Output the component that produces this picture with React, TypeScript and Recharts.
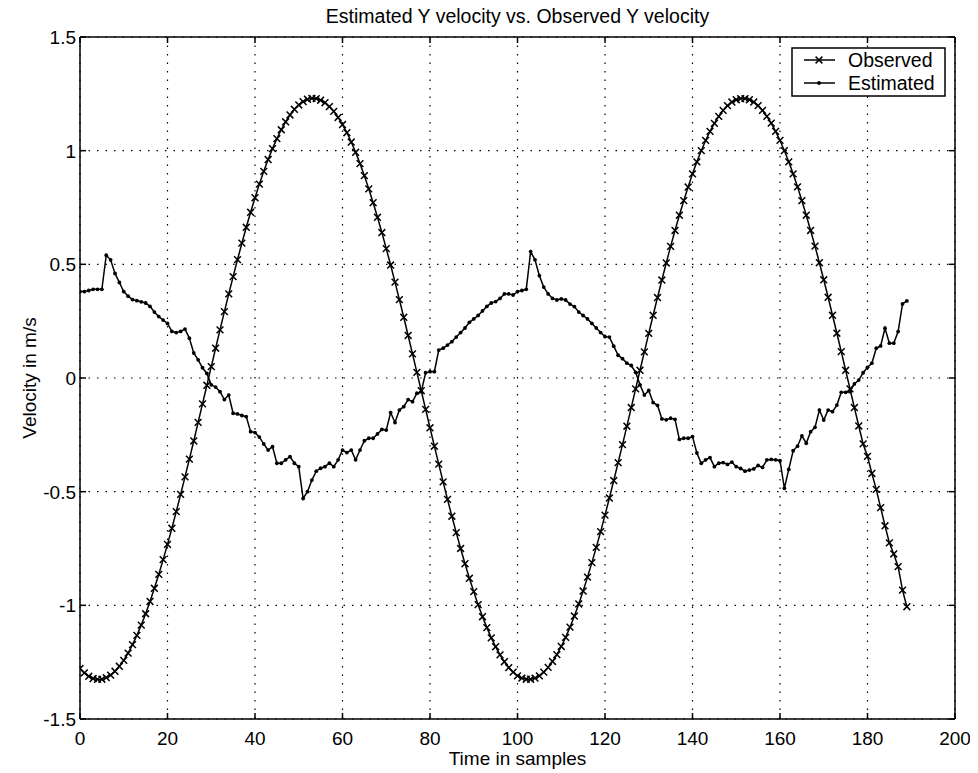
import React from "react";
import { LineChart, Line, XAxis, YAxis, CartesianGrid, Label } from "recharts";

const chartTitle = "Estimated Y velocity vs. Observed Y velocity";
const xLabel = "Time in samples";
const yLabel = "Velocity in m/s";
const seriesNames = ["Observed", "Estimated"];
const xTicks = [0, 20, 40, 60, 80, 100, 120, 140, 160, 180, 200];
const yTicks = [-1.5, -1, -0.5, 0, 0.5, 1, 1.5];

const observed = [
  -1.278, -1.297, -1.312, -1.322, -1.326, -1.325, -1.318, -1.307, -1.29, -1.268,
  -1.242, -1.21, -1.173, -1.132, -1.087, -1.037, -0.983, -0.925, -0.864, -0.799,
  -0.732, -0.661, -0.588, -0.512, -0.435, -0.357, -0.277, -0.195, -0.114, -0.032,
  0.05, 0.131, 0.212, 0.292, 0.37, 0.446, 0.521, 0.593, 0.663, 0.729,
  0.793, 0.853, 0.909, 0.961, 1.009, 1.053, 1.092, 1.127, 1.157, 1.182,
  1.201, 1.216, 1.226, 1.23, 1.229, 1.222, 1.211, 1.194, 1.173, 1.146,
  1.115, 1.079, 1.038, 0.993, 0.943, 0.89, 0.832, 0.771, 0.707, 0.64,
  0.569, 0.497, 0.422, 0.345, 0.267, 0.187, 0.106, 0.025, -0.056, -0.138,
  -0.219, -0.3, -0.379, -0.457, -0.534, -0.608, -0.68, -0.75, -0.817, -0.881,
  -0.94, -0.997, -1.05, -1.098, -1.143, -1.182, -1.218, -1.248, -1.274, -1.294,
  -1.31, -1.32, -1.325, -1.325, -1.32, -1.31, -1.294, -1.273, -1.247, -1.217,
  -1.181, -1.141, -1.096, -1.047, -0.994, -0.937, -0.876, -0.812, -0.745, -0.676,
  -0.603, -0.528, -0.451, -0.372, -0.293, -0.212, -0.13, -0.048, 0.034, 0.115,
  0.196, 0.276, 0.354, 0.431, 0.506, 0.579, 0.649, 0.716, 0.78, 0.84,
  0.898, 0.951, 1.0, 1.045, 1.085, 1.12, 1.151, 1.177, 1.198, 1.214,
  1.224, 1.229, 1.229, 1.224, 1.214, 1.198, 1.177, 1.151, 1.121, 1.085,
  1.045, 1.0, 0.951, 0.898, 0.841, 0.78, 0.716, 0.649, 0.58, 0.507,
  0.432, 0.355, 0.276, 0.197, 0.116, 0.034, -0.048, -0.13, -0.211, -0.29,
  -0.345, -0.42, -0.49, -0.57, -0.65, -0.725, -0.774, -0.83, -0.933, -1.006,
];

const estimated = [
  0.38, 0.38, 0.385, 0.39, 0.39, 0.39, 0.54, 0.52, 0.46, 0.42,
  0.38, 0.36, 0.345, 0.34, 0.335, 0.33, 0.315, 0.29, 0.27, 0.255,
  0.24, 0.205, 0.2, 0.205, 0.215, 0.175, 0.11, 0.08, 0.045, 0.02,
  -0.03, -0.04, -0.06, -0.095, -0.075, -0.155, -0.158, -0.165, -0.17, -0.236,
  -0.24, -0.26, -0.29, -0.317, -0.302, -0.375, -0.375, -0.36, -0.346, -0.375,
  -0.39, -0.53, -0.5, -0.449, -0.41, -0.397, -0.39, -0.375, -0.39, -0.36,
  -0.317, -0.328, -0.317, -0.36, -0.317, -0.276, -0.265, -0.265, -0.246, -0.226,
  -0.229, -0.152, -0.196, -0.141, -0.126, -0.095, -0.104, -0.067, -0.06, 0.023,
  0.028, 0.028, 0.123, 0.131, 0.145, 0.16, 0.18, 0.2, 0.22, 0.245,
  0.26, 0.275, 0.295, 0.315, 0.33, 0.336, 0.35, 0.37, 0.37, 0.365,
  0.38, 0.385, 0.39, 0.556, 0.52, 0.45, 0.4, 0.37, 0.35, 0.343,
  0.348, 0.343, 0.325, 0.314, 0.29, 0.275, 0.26, 0.24, 0.22, 0.2,
  0.182, 0.18, 0.14, 0.1, 0.085, 0.065, 0.055, 0.025, -0.03, -0.075,
  -0.055, -0.108, -0.12, -0.18, -0.184, -0.177, -0.182, -0.27, -0.265, -0.265,
  -0.258, -0.33, -0.375, -0.36, -0.35, -0.39, -0.375, -0.372, -0.38, -0.37,
  -0.39, -0.398, -0.41, -0.405, -0.4, -0.385, -0.393, -0.36, -0.358, -0.36,
  -0.364, -0.485, -0.402, -0.32, -0.3, -0.255, -0.287, -0.236, -0.217, -0.141,
  -0.185, -0.141, -0.148, -0.119, -0.063, -0.063, -0.06, -0.026, -0.009, 0.023,
  0.047, 0.065, 0.131, 0.141, 0.219, 0.153, 0.153, 0.204, 0.326, 0.339,
];

const data = observed.map((v, i) => ({ t: i, obs: v, est: estimated[i] }));

const FONT = "'Liberation Sans', Arial, Helvetica, sans-serif";
const INK = "#000";
const TICK_LEN = 6;

const XDot = (props: any) => {
  const { cx, cy, index } = props;
  if (cx == null || cy == null) return <g key={`x${index}`} />;
  const s = 3.4;
  return (
    <path
      key={`x${index}`}
      d={`M${cx - s},${cy - s}L${cx + s},${cy + s}M${cx - s},${cy + s}L${cx + s},${cy - s}`}
      stroke={INK}
      strokeWidth={1.5}
      fill="none"
    />
  );
};

const PDot = (props: any) => {
  const { cx, cy, index } = props;
  if (cx == null || cy == null) return <g key={`p${index}`} />;
  return <circle key={`p${index}`} cx={cx} cy={cy} r={1.9} fill={INK} stroke="none" />;
};

const fmtY = (v: number) => (v === 0 ? "0" : String(v));

// Custom ticks: draw an inward tick mark plus (optionally) the label.
const BottomTick = (props: any) => {
  const { x, y, payload } = props;
  const axisY = y - 12;
  return (
    <g>
      <line x1={x} y1={axisY} x2={x} y2={axisY - TICK_LEN} stroke={INK} strokeWidth={1.5} />
      <text x={x} y={y} dy="0.75em" textAnchor="middle" fontFamily={FONT} fontSize={19} fill={INK}>
        {payload.value}
      </text>
    </g>
  );
};

const TopTick = (props: any) => {
  const { x, y } = props;
  const axisY = y + 2;
  return <line x1={x} y1={axisY} x2={x} y2={axisY + TICK_LEN} stroke={INK} strokeWidth={1.5} />;
};

const LeftTick = (props: any) => {
  const { x, y, payload } = props;
  const axisX = x + 4;
  return (
    <g>
      <line x1={axisX} y1={y} x2={axisX + TICK_LEN} y2={y} stroke={INK} strokeWidth={1.5} />
      <text x={x} y={y} dy="0.36em" textAnchor="end" fontFamily={FONT} fontSize={19} fill={INK}>
        {fmtY(payload.value)}
      </text>
    </g>
  );
};

const RightTick = (props: any) => {
  const { x, y } = props;
  const axisX = x - 2;
  return <line x1={axisX} y1={y} x2={axisX - TICK_LEN} y2={y} stroke={INK} strokeWidth={1.5} />;
};

const YLabelContent = (props: any) => {
  const vb = props.viewBox || {};
  const cx = (vb.x || 0) + 21;
  const cy = (vb.y || 0) + (vb.height || 0) / 2;
  return (
    <text
      x={cx}
      y={cy}
      transform={`rotate(-90 ${cx} ${cy})`}
      textAnchor="middle"
      dominantBaseline="central"
      fontFamily={FONT}
      fontSize={19}
      fill={INK}
    >
      {yLabel}
    </text>
  );
};

const XLabelContent = (props: any) => {
  const vb = props.viewBox || {};
  const cx = (vb.x || 0) + (vb.width || 0) / 2;
  const cy = (vb.y || 0) + 39;
  return (
    <text x={cx} y={cy} textAnchor="middle" dominantBaseline="central" fontFamily={FONT} fontSize={19} fill={INK}>
      {xLabel}
    </text>
  );
};

const TitleContent = (props: any) => {
  const vb = props.viewBox || {};
  const cx = (vb.x || 0) + (vb.width || 0) / 2;
  const cy = (vb.y || 0) + 16;
  return (
    <text x={cx} y={cy} textAnchor="middle" dominantBaseline="central" fontFamily={FONT} fontSize={19.5} fill={INK}>
      {chartTitle}
    </text>
  );
};

const LegendBox = () => (
  <svg
    width={156}
    height={52}
    style={{ position: "absolute", left: 783, top: 47, overflow: "visible" }}
  >
    <rect x={1} y={1} width={153} height={48} fill="#fff" stroke={INK} strokeWidth={1.5} />
    <line x1={13} y1={13} x2={44} y2={13} stroke={INK} strokeWidth={1.5} />
    <path d="M24.6,9.6L31.4,16.4M24.6,16.4L31.4,9.6" stroke={INK} strokeWidth={1.5} />
    <text x={57} y={13} dominantBaseline="central" fontFamily={FONT} fontSize={19.5} fill={INK}>
      {seriesNames[0]}
    </text>
    <line x1={13} y1={36} x2={44} y2={36} stroke={INK} strokeWidth={1.5} />
    <circle cx={28} cy={36} r={1.9} fill={INK} />
    <text x={57} y={36} dominantBaseline="central" fontFamily={FONT} fontSize={19.5} fill={INK}>
      {seriesNames[1]}
    </text>
  </svg>
);

export default function App() {
  const axisLine = { stroke: INK, strokeWidth: 1.5 };
  return (
    <div style={{ position: "relative", width: 970, height: 773, marginTop: -8, background: "#fff" }}>
      <LineChart
        width={970}
        height={773}
        data={data}
        margin={{ top: 0, right: 0, bottom: 0, left: 0 }}
        style={{ background: "#fff" }}
      >
        <CartesianGrid
          xAxisId="bottom"
          yAxisId="left"
          stroke={INK}
          strokeWidth={1.2}
          strokeDasharray="1.5 7"
          horizontalValues={yTicks}
          verticalValues={xTicks}
        />
        <XAxis
          xAxisId="bottom"
          dataKey="t"
          type="number"
          domain={[0, 200]}
          ticks={xTicks}
          interval={0}
          height={54}
          tickSize={0}
          tickMargin={12}
          tick={<BottomTick />}
          axisLine={axisLine}
          tickLine={false}
          allowDataOverflow
        >
          <Label content={<XLabelContent />} />
        </XAxis>
        <XAxis
          xAxisId="top"
          orientation="top"
          dataKey="t"
          type="number"
          domain={[0, 200]}
          ticks={xTicks}
          interval={0}
          height={37}
          tickSize={0}
          tickMargin={2}
          tick={<TopTick />}
          axisLine={axisLine}
          tickLine={false}
          allowDataOverflow
        >
          <Label content={<TitleContent />} />
        </XAxis>
        <YAxis
          yAxisId="left"
          type="number"
          domain={[-1.5, 1.5]}
          ticks={yTicks}
          interval={0}
          width={72}
          tickSize={0}
          tickMargin={4}
          tick={<LeftTick />}
          axisLine={axisLine}
          tickLine={false}
          allowDataOverflow
        >
          <Label content={<YLabelContent />} />
        </YAxis>
        <YAxis
          yAxisId="right"
          orientation="right"
          type="number"
          domain={[-1.5, 1.5]}
          ticks={yTicks}
          interval={0}
          width={23}
          tickSize={0}
          tickMargin={2}
          tick={<RightTick />}
          axisLine={axisLine}
          tickLine={false}
          allowDataOverflow
        />
        <Line
          xAxisId="top"
          yAxisId="right"
          dataKey="obs"
          stroke="none"
          dot={false}
          activeDot={false}
          legendType="none"
          isAnimationActive={false}
        />
        <Line
          xAxisId="bottom"
          yAxisId="left"
          type="linear"
          dataKey="obs"
          name={seriesNames[0]}
          stroke={INK}
          strokeWidth={1.5}
          dot={XDot}
          activeDot={false}
          isAnimationActive={false}
        />
        <Line
          xAxisId="bottom"
          yAxisId="left"
          type="linear"
          dataKey="est"
          name={seriesNames[1]}
          stroke={INK}
          strokeWidth={1.5}
          dot={PDot}
          activeDot={false}
          isAnimationActive={false}
        />
      </LineChart>
      <LegendBox />
    </div>
  );
}
